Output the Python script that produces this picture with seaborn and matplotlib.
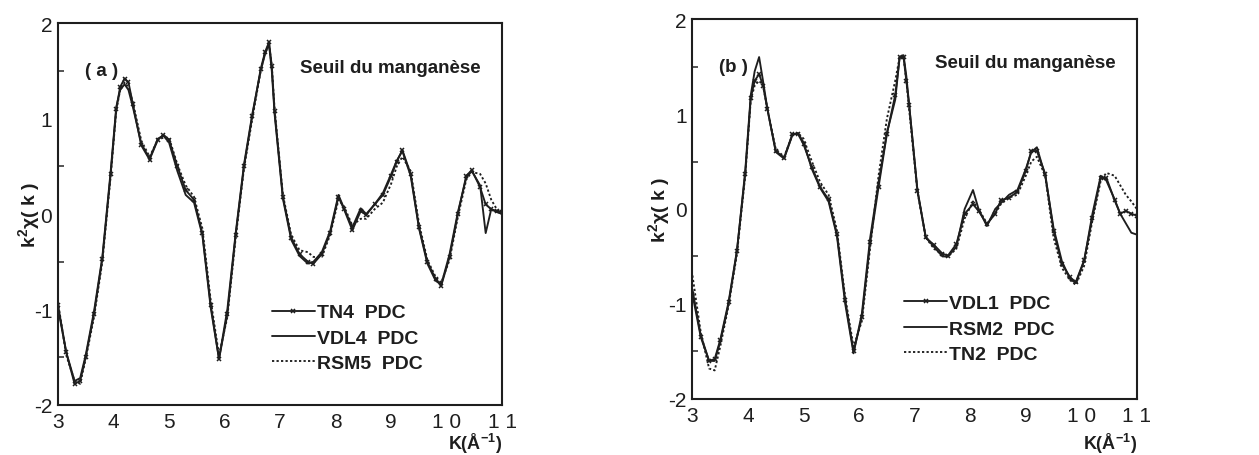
import numpy as np
import pandas as pd
import matplotlib
matplotlib.use("Agg")
import matplotlib.pyplot as plt
import seaborn as sns

# ==========================================
# DATA
# ==========================================
k_values = [3.0, 3.15, 3.3, 3.4, 3.5, 3.65, 3.8, 3.95,
            4.05, 4.12, 4.2, 4.27, 4.35, 4.5, 4.65, 4.8, 4.9,
            5.0, 5.15, 5.3, 5.45, 5.6, 5.75, 5.9,
            6.05, 6.2, 6.35, 6.5, 6.65, 6.73, 6.8, 6.85, 6.9,
            7.05, 7.2, 7.35, 7.5, 7.6, 7.75, 7.9,
            8.05, 8.15, 8.3, 8.45, 8.55, 8.7, 8.85,
            9.0, 9.1, 9.2, 9.35, 9.5, 9.65, 9.8, 9.9,
            10.05, 10.2, 10.35, 10.45, 10.6, 10.7, 10.8, 10.9, 11.0]

# panel (a)
tn4 = [-0.95, -1.45, -1.78, -1.75, -1.5, -1.05, -0.47, 0.42,
       1.1, 1.33, 1.42, 1.38, 1.15, 0.72, 0.57, 0.78, 0.83,
       0.78, 0.5, 0.25, 0.15, -0.2, -0.95, -1.52,
       -1.05, -0.22, 0.5, 1.03, 1.52, 1.7, 1.8, 1.55, 1.08,
       0.18, -0.25, -0.42, -0.5, -0.52, -0.42, -0.2,
       0.18, 0.05, -0.17, 0.03, -0.01, 0.1, 0.2,
       0.4, 0.55, 0.67, 0.42, -0.14, -0.5, -0.68, -0.75,
       -0.45, 0.0, 0.4, 0.46, 0.28, 0.1, 0.05, 0.03, 0.02]
vdl4 = [-0.98, -1.45, -1.75, -1.72, -1.48, -1.02, -0.45, 0.45,
        1.12, 1.3, 1.36, 1.3, 1.12, 0.74, 0.58, 0.79, 0.82,
        0.75, 0.45, 0.2, 0.12, -0.22, -0.98, -1.52,
        -1.0, -0.2, 0.52, 1.05, 1.5, 1.68, 1.78, 1.5, 1.05,
        0.16, -0.27, -0.44, -0.52, -0.5, -0.4, -0.18,
        0.2, 0.06, -0.14, 0.06, 0.0, 0.1, 0.22,
        0.42, 0.56, 0.66, 0.4, -0.15, -0.52, -0.7, -0.74,
        -0.42, 0.02, 0.38, 0.45, 0.3, -0.2, 0.05, 0.02, 0.0]
rsm5 = [-0.92, -1.48, -1.75, -1.78, -1.52, -1.08, -0.5, 0.4,
        1.08, 1.3, 1.38, 1.33, 1.17, 0.77, 0.6, 0.78, 0.8,
        0.8, 0.52, 0.3, 0.18, -0.15, -0.9, -1.48,
        -1.08, -0.25, 0.48, 1.0, 1.5, 1.7, 1.78, 1.55, 1.1,
        0.2, -0.22, -0.38, -0.4, -0.45, -0.45, -0.22,
        0.15, 0.08, -0.12, -0.05, -0.05, 0.05, 0.12,
        0.32, 0.5, 0.6, 0.45, -0.1, -0.48, -0.66, -0.72,
        -0.48, -0.03, 0.36, 0.44, 0.42, 0.32, 0.15, 0.05, 0.0]

# panel (b)
vdl1 = [-0.9, -1.35, -1.6, -1.58, -1.38, -0.98, -0.44, 0.37,
        1.17, 1.35, 1.42, 1.3, 1.05, 0.61, 0.54, 0.79, 0.79,
        0.68, 0.44, 0.23, 0.1, -0.26, -0.96, -1.5,
        -1.14, -0.35, 0.23, 0.79, 1.2, 1.6, 1.6, 1.35, 1.1,
        0.19, -0.3, -0.38, -0.47, -0.49, -0.37, -0.05,
        0.05, -0.02, -0.16, -0.05, 0.09, 0.12, 0.18,
        0.4, 0.61, 0.61, 0.37, -0.23, -0.58, -0.72, -0.77,
        -0.54, -0.09, 0.33, 0.33, 0.09, -0.05, -0.02, -0.05, -0.07]
rsm2 = [-0.85, -1.33, -1.6, -1.6, -1.4, -1.0, -0.45, 0.4,
        1.2, 1.45, 1.6, 1.35, 1.05, 0.6, 0.53, 0.78, 0.8,
        0.7, 0.42, 0.22, 0.08, -0.28, -1.0, -1.52,
        -1.1, -0.3, 0.28, 0.8, 1.15, 1.6, 1.62, 1.4, 1.1,
        0.2, -0.3, -0.4, -0.5, -0.5, -0.4, 0.0,
        0.2, 0.0, -0.18, 0.0, 0.06, 0.15, 0.2,
        0.42, 0.6, 0.65, 0.35, -0.2, -0.55, -0.74, -0.78,
        -0.55, -0.05, 0.35, 0.3, 0.1, -0.05, -0.15, -0.25, -0.27]
tn2 = [-0.7, -1.3, -1.68, -1.7, -1.45, -1.02, -0.48, 0.35,
       1.15, 1.3, 1.35, 1.3, 1.05, 0.63, 0.55, 0.78, 0.8,
       0.74, 0.5, 0.28, 0.15, -0.22, -0.93, -1.45,
       -1.18, -0.4, 0.35, 0.95, 1.35, 1.6, 1.6, 1.35, 1.05,
       0.18, -0.3, -0.42, -0.48, -0.5, -0.42, -0.1,
       0.08, 0.0, -0.15, -0.05, 0.05, 0.12, 0.15,
       0.35, 0.5, 0.55, 0.35, -0.3, -0.62, -0.75, -0.8,
       -0.6, -0.12, 0.3, 0.38, 0.35, 0.25, 0.15, 0.08, 0.0]

x_ticks = [3, 4, 5, 6, 7, 8, 9, 10, 11]
x_tick_labels = ["3", "4", "5", "6", "7", "8", "9", "1 0", "1 1"]
y_ticks = [-2, -1, 0, 1, 2]

panels = [
    {"tag": "( a )", "series": [("TN4  PDC", tn4), ("VDL4  PDC", vdl4), ("RSM5  PDC", rsm5)],
     "rect": [0.046, 0.110, 0.353, 0.837], "ylab_x": -0.036, "xlab_y": -0.068,
     "leg": (0.46, 0.29)},
    {"tag": "(b )", "series": [("VDL1  PDC", vdl1), ("RSM2  PDC", rsm2), ("TN2  PDC", tn2)],
     "rect": [0.550, 0.123, 0.353, 0.833], "ylab_x": -0.047, "xlab_y": -0.085,
     "leg": (0.455, 0.3)},
]

# ==========================================
# PLOT
# ==========================================
sns.set_theme(style="white")
plt.rcParams["font.family"] = ["Liberation Sans", "DejaVu Sans"]
plt.rcParams["axes.unicode_minus"] = False
plt.rcParams["mathtext.fontset"] = "custom"
plt.rcParams["mathtext.rm"] = "Liberation Sans:bold"
plt.rcParams["mathtext.bf"] = "Liberation Sans:bold"
plt.rcParams["mathtext.it"] = "Liberation Sans:bold"

ink = "#1e1e1e"
styles = [dict(marker="x", markersize=3.5, markeredgewidth=1.1, markeredgecolor=ink,
               markerfacecolor=ink, linestyle="-"),
          dict(marker=None, linestyle="-"),
          dict(marker=None, linestyle=(0, (1.2, 1.2)))]

fig = plt.figure(figsize=(12.59, 4.56), dpi=100)

for p in panels:
    ax = fig.add_axes(p["rect"])
    for (name, vals), st in zip(p["series"], styles):
        sns.lineplot(x=k_values, y=vals, ax=ax, color=ink, linewidth=1.35,
                     label=name, **st)
    ax.set_xlim(3, 11)
    ax.set_ylim(-2, 2)
    ax.set_xticks(x_ticks)
    ax.set_xticklabels(x_tick_labels)
    ax.set_yticks(y_ticks)
    ax.set_yticks(np.arange(-1.5, 2, 1.0), minor=True)
    ax.tick_params(axis="x", which="major", direction="in", length=8, width=1.3,
                   labelsize=15, colors=ink, pad=5)
    ax.tick_params(axis="y", which="major", direction="in", length=5, width=1.3,
                   labelsize=15, colors=ink, pad=4)
    ax.tick_params(axis="y", which="minor", direction="in", length=4, width=1.1, left=True)
    for s in ax.spines.values():
        s.set_linewidth(1.5)
        s.set_color(ink)
    ax.set_xlabel("K(Å$^{-1}$)", fontsize=13, fontweight="bold", color=ink,
                  ha="right", va="top")
    ax.xaxis.set_label_coords(1.0, p["xlab_y"])
    ax.set_ylabel("k$^{2}$χ( k )", fontsize=14, fontweight="bold", color=ink)
    ax.yaxis.set_label_coords(p["ylab_x"], 0.5)
    ax.text(0.06, 0.875, p["tag"], transform=ax.transAxes, fontsize=13.5,
            fontweight="bold", va="center", color=ink)
    ax.text(0.545, 0.885, "Seuil du manganèse", transform=ax.transAxes, fontsize=13.5,
            fontweight="bold", va="center", color=ink)
    ax.legend(loc="upper left", bbox_to_anchor=p["leg"], frameon=False,
              handlelength=2.2, handletextpad=0.1, labelspacing=0.4, borderpad=0,
              prop={"weight": "bold", "size": 14}, labelcolor=ink)

fig.savefig("out.png", dpi=100, facecolor="white")
